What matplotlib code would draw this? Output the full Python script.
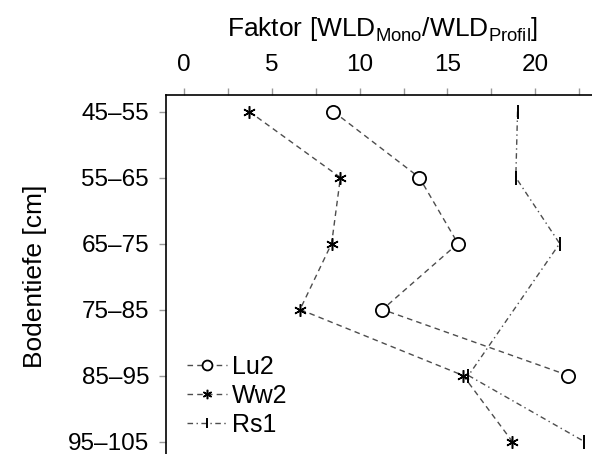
import numpy as np
import matplotlib
matplotlib.use('Agg')
import matplotlib.pyplot as plt

# Daten
tiefen = ['45–55', '55–65', '65–75', '75–85', '85–95', '95–105']
lu2 = [8.5, 13.4, 15.6, 11.3, 21.9, np.nan]
ww2 = [3.7, 8.9, 8.4, 6.6, 15.9, 18.7]
rs1 = [19.0, 18.9, 21.4, np.nan, 16.2, 22.8]
x_ticks = [0, 2.5, 5, 7.5, 10, 12.5, 15, 17.5, 20, 22.5]

plt.rcParams['font.family'] = ['Liberation Sans', 'DejaVu Sans']
plt.rcParams['mathtext.fontset'] = 'custom'
plt.rcParams['mathtext.rm'] = 'Liberation Sans'
plt.rcParams['mathtext.it'] = 'Liberation Sans:italic'

W, H = 592, 454
fig = plt.figure(figsize=(W / 100, H / 100), dpi=100)
# Achse ragt rechts und unten etwas ueber den Bildrand hinaus
ax = fig.add_axes([165.7 / W, 1 - 458 / H, (600 - 165.7) / W, (458 - 95) / H])

y = np.arange(len(tiefen))
grau = '0.3'


def zeichne(werte, label, ls, dashes, **mk):
    werte = np.array(werte, dtype=float)
    ok = ~np.isnan(werte)
    ax.plot(werte[ok], y[ok], color=grau, lw=1.0, ls=ls, dashes=dashes,
            label=label, **mk)


zeichne(lu2, 'Lu2', '--', (4, 3), marker='o', ms=9.5, mfc='white',
        mec='k', mew=1.3)
zeichne(ww2, 'Ww2', '--', (4, 3), marker=(6, 2, 0), ms=9, mec='k', mew=1.1)
zeichne(rs1, 'Rs1', '-.', (4, 2.5, 1, 2.5), marker='|', ms=10, mec='k',
        mew=1.4)

ax.set_xlim(-1.06, 23.7)
ax.set_ylim(len(tiefen) - 0.75, -0.25)

ax.xaxis.tick_top()
ax.xaxis.set_label_position('top')
ax.set_xticks(x_ticks)
ax.set_xticklabels([('%g' % t) if t % 5 == 0 else '' for t in x_ticks])
ax.set_yticks(y)
ax.set_yticklabels(tiefen)
ax.tick_params(axis='both', direction='out', length=5, width=1,
               color='0.6', labelsize=17.5)
ax.tick_params(axis='x', pad=9)
ax.tick_params(axis='y', pad=7)

ax.spines['right'].set_visible(False)
ax.spines['bottom'].set_visible(False)
for s in ['left', 'top']:
    ax.spines[s].set_linewidth(1.2)

ax.set_xlabel(r'Faktor $\left[\mathrm{WLD}_{\mathrm{Mono}}/\mathrm{WLD}_{\mathrm{Profil}}\right]$',
              fontsize=19, labelpad=12)
ax.set_ylabel('Bodentiefe [cm]', fontsize=19, labelpad=15)

ax.legend(loc='upper left', bbox_to_anchor=(177 / W, 1 - 345 / H),
          bbox_transform=fig.transFigure, frameon=False, fontsize=18,
          handlelength=1.6, handletextpad=0.2, labelspacing=0.2,
          borderaxespad=0, markerscale=0.75)

fig.savefig('out.png', dpi=100)
